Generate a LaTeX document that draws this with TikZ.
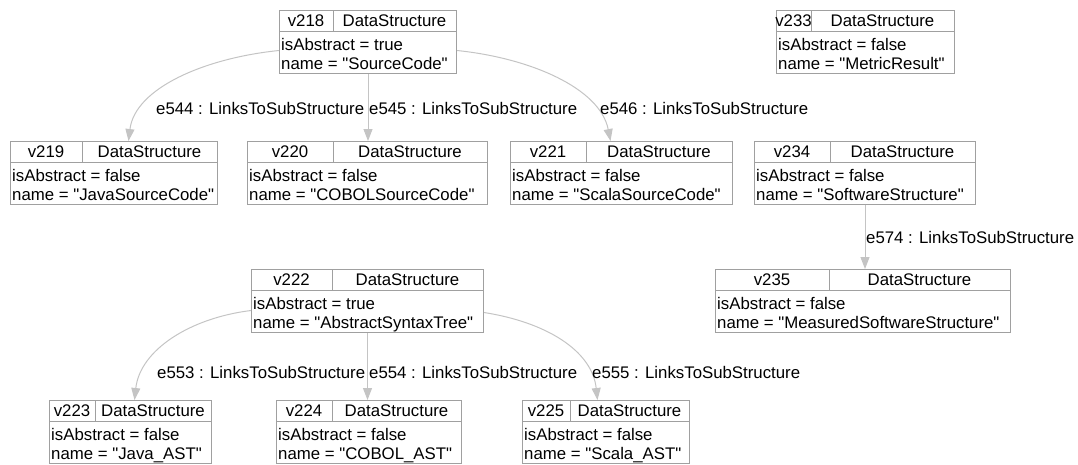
\documentclass[tikz,border=0pt]{standalone}
\usepackage{fontspec}
\usetikzlibrary{arrows.meta}
\newfontfamily\dsfamily{Liberation Sans}
\newcommand{\dsf}{\dsfamily\fontsize{16.8pt}{20pt}\selectfont}
\definecolor{boxgray}{HTML}{A0A0A0}
\definecolor{edgegray}{HTML}{C4C4C4}
\tikzset{
  dsb/.style={draw=boxgray, line width=1pt, inner sep=0pt, rectangle, minimum height=63pt},
  dsline/.style={draw=boxgray, line width=1pt},
  dstxt/.style={font=\dsf, inner sep=0pt, text=black},
  edgeline/.style={draw=edgegray, line width=1pt, -{Triangle[length=12pt,width=9pt]}},
  elabel/.style={font=\dsf, inner sep=0pt, anchor=base west, text=black}
}
% #1 name, #2 left, #3 top, #4 right, #5 divider, #6 id, #7 abstract, #8 name
\newcommand{\dsbox}[8]{%
  \pgfmathsetmacro{\dsw}{#4-#2}%
  \node[dsb, minimum width=\dsw pt, anchor=north west] (#1) at (#2,#3) {};
  \draw[dsline] (#2,{#3+21}) -- (#4,{#3+21});
  \draw[dsline] (#5,#3) -- (#5,{#3+21});
  \node[dstxt, anchor=base] (#1-id) at ({(#2+#5)/2},{#3+16.5}) {#6};
  \node[dstxt, anchor=base] (#1-type) at ({(#5+#4)/2},{#3+16.5}) {DataStructure};
  \node[dstxt, anchor=base west] (#1-abs) at ({#2+2},{#3+40}) {isAbstract = #7};
  \node[dstxt, anchor=base west] (#1-name) at ({#2+2},{#3+59}) {name = "#8"};
}
\begin{document}
\begin{tikzpicture}[x=1pt,y=-1pt]
\useasboundingbox (0,0) rectangle (1078,464);
% row 1
\dsbox{v218}{279}{10}{456}{333}{v218}{true}{SourceCode}
\dsbox{v233}{776}{10}{954}{811}{v233}{false}{MetricResult}
% row 2
\dsbox{v219}{10}{141}{217}{82}{v219}{false}{JavaSourceCode}
\dsbox{v220}{247}{141}{487}{333}{v220}{false}{COBOLSourceCode}
\dsbox{v221}{510}{141}{732}{586}{v221}{false}{ScalaSourceCode}
\dsbox{v234}{754}{141}{975}{830}{v234}{false}{SoftwareStructure}
% row 3
\dsbox{v222}{251}{269}{483}{332}{v222}{true}{AbstractSyntaxTree}
\dsbox{v235}{715}{269}{1010}{829}{v235}{false}{MeasuredSoftwareStructure}
% row 4
\dsbox{v223}{49}{400}{211}{95}{v223}{false}{Java\_AST}
\dsbox{v224}{276}{400}{461}{332}{v224}{false}{COBOL\_AST}
\dsbox{v225}{522}{400}{689}{570}{v225}{false}{Scala\_AST}
% edges
\draw[edgeline] ([yshift=-8.5pt]v218.west) .. controls (205,58) and (135,88) .. ([xshift=14.5pt]v219.north);
\draw[edgeline] (v218.south) -- (v218.south |- v220.north);
\draw[edgeline] ([yshift=-8.5pt]v218.east) .. controls (530,58) and (600,88) .. ([xshift=-11pt]v221.north);
\draw[edgeline] (v234.south) -- (v234.south |- v235.north);
\draw[edgeline] ([yshift=-9.5pt]v222.west) .. controls (190,318) and (140,350) .. ([xshift=4pt]v223.north);
\draw[edgeline] (v222.south) -- (v222.south |- v224.north);
\draw[edgeline] ([yshift=-11.5pt]v222.east) .. controls (545,322) and (592,350) .. ([xshift=-8.5pt]v225.north);
% edge labels
\node[elabel] (e544) at (156,114) {e544 : LinksToSubStructure};
\node[elabel] (e545) at (369,114) {e545 : LinksToSubStructure};
\node[elabel] (e546) at (600,114) {e546 : LinksToSubStructure};
\node[elabel] (e574) at (866,243) {e574 : LinksToSubStructure};
\node[elabel] (e553) at (157,378) {e553 : LinksToSubStructure};
\node[elabel] (e554) at (369,378) {e554 : LinksToSubStructure};
\node[elabel] (e555) at (592,378) {e555 : LinksToSubStructure};
\end{tikzpicture}
\end{document}
